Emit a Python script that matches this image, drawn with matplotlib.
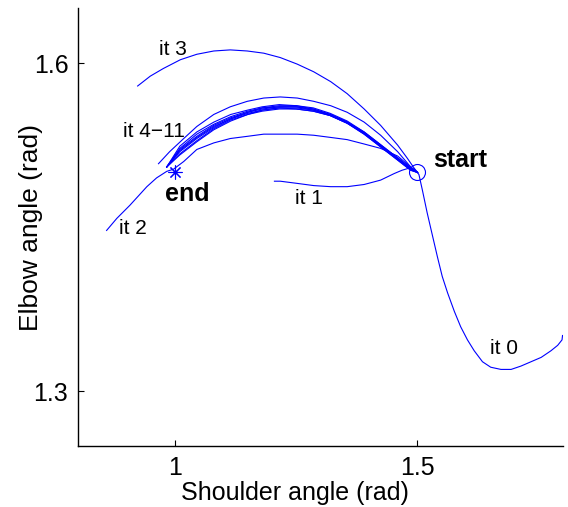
import matplotlib
matplotlib.use("Agg")
import matplotlib.pyplot as plt

plt.rcParams['font.family'] = ['Liberation Sans', 'DejaVu Sans']

# start / end of the movement (shoulder, elbow)
start_pt = (1.5, 1.5)
end_pt = (1.0, 1.5)

# iteration 0
it0_x = [1.5, 1.503, 1.510, 1.520, 1.531, 1.541, 1.551, 1.562, 1.576, 1.589, 1.603, 1.617, 1.634,
         1.651, 1.672, 1.693, 1.713, 1.734, 1.755, 1.775, 1.789, 1.798, 1.799]
it0_y = [1.5, 1.498, 1.484, 1.463, 1.442, 1.423, 1.405, 1.390, 1.373, 1.359, 1.347, 1.337, 1.327,
         1.322, 1.320, 1.320, 1.323, 1.327, 1.331, 1.337, 1.342, 1.347, 1.351]

# iteration 1
it1_x = [1.5, 1.493, 1.483, 1.468, 1.452, 1.424, 1.390, 1.355, 1.321, 1.286, 1.252, 1.217, 1.205]
it1_y = [1.5, 1.503, 1.504, 1.502, 1.499, 1.493, 1.489, 1.487, 1.487, 1.488, 1.490, 1.492, 1.492]

# iteration 2
it2_x = [1.5, 1.486, 1.459, 1.424, 1.390, 1.355, 1.321, 1.286, 1.252, 1.217, 1.183, 1.149, 1.114,
         1.080, 1.045, 1.018, 0.997, 0.983, 0.962, 0.942, 0.907, 0.880, 0.859]
it2_y = [1.5, 1.505, 1.515, 1.522, 1.526, 1.530, 1.532, 1.534, 1.535, 1.535, 1.535, 1.533, 1.531,
         1.527, 1.521, 1.510, 1.503, 1.501, 1.495, 1.487, 1.470, 1.458, 1.447]

# iteration 3
it3_x = [1.5, 1.493, 1.479, 1.459, 1.424, 1.390, 1.355, 1.321, 1.286, 1.252, 1.217, 1.183, 1.149,
         1.114, 1.080, 1.045, 1.011, 0.976, 0.949, 0.923]
it3_y = [1.5, 1.504, 1.513, 1.525, 1.543, 1.558, 1.572, 1.583, 1.592, 1.599, 1.605, 1.609, 1.611,
         1.612, 1.611, 1.608, 1.603, 1.595, 1.588, 1.579]

# iteration 4
it4_x = [1.5, 1.486, 1.459, 1.424, 1.390, 1.355, 1.321, 1.286, 1.252, 1.217, 1.183, 1.149, 1.114,
         1.080, 1.045, 1.018, 0.989, 0.966]
it4_y = [1.5, 1.505, 1.519, 1.534, 1.546, 1.555, 1.561, 1.565, 1.568, 1.569, 1.568, 1.565, 1.560,
         1.553, 1.542, 1.531, 1.519, 1.508]

# iterations 5-11 share the same shoulder samples
bundle_x = [1.5, 1.486, 1.46, 1.425, 1.39, 1.355, 1.32, 1.285, 1.25, 1.215, 1.18, 1.15, 1.115,
            1.08, 1.045, 1.01, 0.983]
it5_y = [1.5, 1.504, 1.513, 1.525, 1.537, 1.547, 1.554, 1.559, 1.561, 1.562, 1.560, 1.557, 1.553,
         1.546, 1.537, 1.524, 1.505]
it6_y = [1.5, 1.504, 1.513, 1.525, 1.537, 1.546, 1.553, 1.558, 1.561, 1.561, 1.559, 1.556, 1.551,
         1.544, 1.535, 1.522, 1.505]
it7_y = [1.5, 1.503, 1.512, 1.524, 1.536, 1.546, 1.553, 1.558, 1.560, 1.560, 1.559, 1.555, 1.550,
         1.543, 1.533, 1.521, 1.505]
it8_y = [1.5, 1.503, 1.512, 1.524, 1.536, 1.546, 1.553, 1.557, 1.560, 1.560, 1.558, 1.555, 1.549,
         1.542, 1.532, 1.520, 1.505]
it9_y = [1.5, 1.503, 1.512, 1.524, 1.536, 1.545, 1.552, 1.557, 1.559, 1.559, 1.557, 1.554, 1.549,
         1.541, 1.531, 1.519, 1.505]
it10_y = [1.5, 1.502, 1.511, 1.523, 1.535, 1.545, 1.552, 1.556, 1.558, 1.559, 1.557, 1.553, 1.548,
          1.540, 1.529, 1.517, 1.505]
it11_y = [1.5, 1.502, 1.511, 1.523, 1.535, 1.545, 1.552, 1.556, 1.558, 1.558, 1.556, 1.553, 1.547,
          1.539, 1.528, 1.516, 1.505]

# label text and where it sits
labels = ['it 0', 'it 1', 'it 2', 'it 3', 'it 4\u221211']
label_x = [1.678, 1.277, 0.914, 0.996, 0.957]
label_y = [1.339, 1.476, 1.449, 1.612, 1.537]

fig = plt.figure(figsize=(5.68, 5.07), dpi=100)
ax = fig.add_axes([0.1373, 0.1203, 0.8539, 0.8633])

blue = (0, 0, 1)
lw = 0.8
ax.plot(it0_x, it0_y, color=blue, lw=lw)
ax.plot(it1_x, it1_y, color=blue, lw=lw)
ax.plot(it2_x, it2_y, color=blue, lw=lw)
ax.plot(it3_x, it3_y, color=blue, lw=lw)
ax.plot(it4_x, it4_y, color=blue, lw=lw)
for ys in [it5_y, it6_y, it7_y, it8_y, it9_y, it10_y, it11_y]:
    ax.plot(bundle_x, ys, color=blue, lw=lw)

ax.plot(*start_pt, marker='o', ms=11.5, mfc='none', mec=blue, mew=0.8)
ax.plot(*end_pt, marker=(8, 2, 0), ms=10, mec=blue, mew=0.8)

for t, x, y in zip(labels, label_x, label_y):
    ax.text(x, y, t, fontsize=15, ha='center', va='center')
ax.text(1.587, 1.511, 'start', fontsize=18, fontweight='bold', ha='center', va='center')
ax.text(1.025, 1.480, 'end', fontsize=18, fontweight='bold', ha='center', va='center')

ax.set_xlim(0.8, 1.8)
ax.set_ylim(1.25, 1.65)
ax.set_xticks([1, 1.5])
ax.set_xticklabels(['1', '1.5'])
ax.set_yticks([1.3, 1.6])
ax.set_yticklabels(['1.3', '1.6'])
ax.tick_params(direction='in', length=4, width=0.8, labelsize=18, pad=7)

ax.spines['top'].set_visible(False)
ax.spines['right'].set_visible(False)
for s in ['left', 'bottom']:
    ax.spines[s].set_linewidth(1.0)

ax.set_xlabel('Shoulder angle (rad)', fontsize=18)
ax.set_ylabel('Elbow angle (rad)', fontsize=19)
ax.xaxis.set_label_coords(0.447, -0.08)
ax.yaxis.set_label_coords(-0.072, 0.5)

fig.savefig('out.png', dpi=100)
